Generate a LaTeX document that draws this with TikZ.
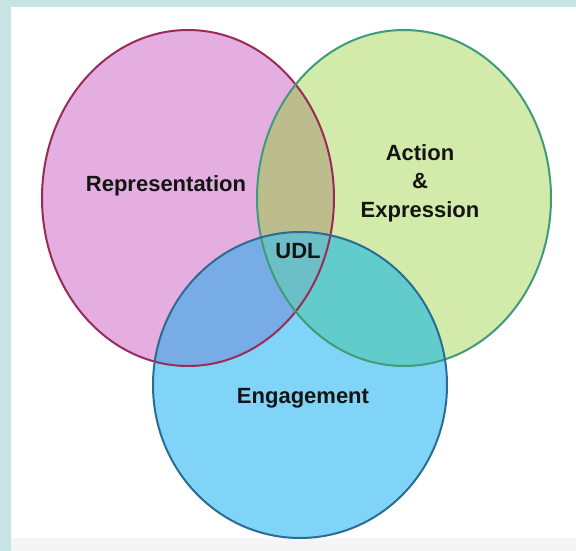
\documentclass[tikz,border=0pt]{standalone}
\usepackage{fontspec}
\setmainfont{Liberation Sans}
\definecolor{framecyan}{HTML}{C6E4E4}
\definecolor{footgrey}{HTML}{F5F5F5}
\definecolor{pinkfill}{HTML}{E4AEE0}
\definecolor{greenfill}{HTML}{D2EAAA}
\definecolor{bluefill}{HTML}{80D4F8}
\definecolor{pinkgreen}{HTML}{BCBC8C}
\definecolor{pinkblue}{HTML}{78ACE6}
\definecolor{greenblue}{HTML}{62CCCC}
\definecolor{allthree}{HTML}{6CBFC6}
\definecolor{pinkedge}{HTML}{9A2A58}
\definecolor{greenedge}{HTML}{3E9C78}
\definecolor{blueedge}{HTML}{2C6C94}
\definecolor{labeltext}{HTML}{141414}
\begin{document}
\begin{tikzpicture}[x=1pt,y=-1pt,
  setlabel/.style={font=\bfseries\fontsize{22}{28.5}\selectfont, text=labeltext, align=center, inner sep=0pt},
  setedge/.style={line width=2pt}]
  % page: cyan frame, white sheet, faint grey foot
  \fill[framecyan] (0,0) rectangle (576,551);
  \fill[white] (11,7) rectangle (576,551);
  \fill[footgrey] (11,538) rectangle (576,551);
  % the three sets
  \def\pinkset{(188,198) ellipse [x radius=146pt, y radius=168pt]}
  \def\greenset{(404,198) ellipse [x radius=147pt, y radius=168pt]}
  \def\blueset{(300,385) ellipse [x radius=147pt, y radius=153pt]}
  \fill[pinkfill] \pinkset;
  \fill[greenfill] \greenset;
  \fill[bluefill] \blueset;
  % pairwise overlaps
  \begin{scope}
    \clip \pinkset;
    \fill[pinkgreen] \greenset;
    \fill[pinkblue] \blueset;
  \end{scope}
  \begin{scope}
    \clip \greenset;
    \fill[greenblue] \blueset;
  \end{scope}
  % common overlap
  \begin{scope}
    \clip \pinkset;
    \clip \greenset;
    \fill[allthree] \blueset;
  \end{scope}
  % outlines
  \draw[setedge, pinkedge] \pinkset;
  \draw[setedge, greenedge] \greenset;
  \draw[setedge, blueedge] \blueset;
  % labels
  \node[setlabel] (repr) at (166,186) {Representation};
  \node[setlabel] (action) at (420,183) {Action\\\&\\Expression};
  \node[setlabel] (udl) at (298,251) {UDL};
  \node[setlabel] (engage) at (303,398) {Engagement};
\end{tikzpicture}
\end{document}
